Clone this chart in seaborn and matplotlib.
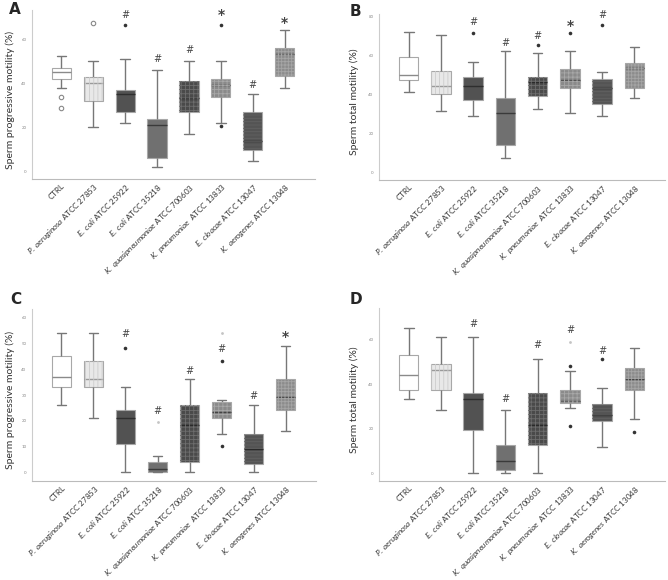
import matplotlib
matplotlib.use("Agg")
import matplotlib.pyplot as plt
from matplotlib.patches import PathPatch
import seaborn as sns
import pandas as pd

# groups, in plotting order
groups = ["CTRL", "P. aeruginosa ATCC 27853", "E. coli ATCC 25922", "E. coli ATCC 35218",
          "K. quasipneumoniae ATCC 700603", "K. pneumoniae ATCC 13833",
          "E. cloacae ATCC 13047", "K. aerogenes ATCC 13048"]
tick_labels = ["CTRL",
               r"$\it{P.\ aeruginosa}$ ATCC 27853",
               r"$\it{E.\ coli}$ ATCC 25922",
               r"$\it{E.\ coli}$ ATCC 35218",
               r"$\it{K.\ quasipneumoniae}$ ATCC 700603",
               r"$\it{K.\ pneumoniae}$  ATCC 13833",
               r"$\it{E.\ cloacae}$ ATCC 13047",
               r"$\it{K.\ aerogenes}$ ATCC 13048"]

# A - progressive motility, 1st time point
A_low = [38.2, 20.2, 22.2, 2.1, 17.2, 22.2, 5.1, 38.2]
A_q1 = [42.2, 32.3, 27.0, 6.2, 27.0, 34.1, 10.1, 43.3]
A_med = [45.4, 40.4, 35.1, 21.1, 33.5, 39.2, 14.2, 53.2]
A_q3 = [47.2, 43.1, 37.1, 24.1, 41.2, 42.1, 27.1, 56.1]
A_high = [52.3, 50.2, 51.3, 46.2, 50.2, 50.2, 35.1, 64.4]
A_out = [("E. coli ATCC 25922", 66.4), ("K. pneumoniae ATCC 13833", 66.4),
         ("K. pneumoniae ATCC 13833", 21.0)]
A_open = [("CTRL", 34.0), ("CTRL", 29.0), ("P. aeruginosa ATCC 27853", 67.3)]
A_faint = []
A_sig = ["", "", "#", "#", "#", "*", "#", "*"]
A_sig_y = [0, 0, 70.9, 51.0, 55.0, 70.9, 39.2, 67.4]

# B - total motility, 1st time point
B_low = [41.3, 31.3, 29.0, 7.3, 32.3, 30.2, 29.0, 38.2]
B_q1 = [47.3, 40.1, 37.3, 14.2, 39.2, 43.2, 35.1, 43.2]
B_med = [50.3, 44.2, 44.2, 30.2, 46.5, 47.3, 43.5, 53.7]
B_q3 = [59.2, 52.3, 49.2, 38.2, 49.2, 53.2, 48.2, 56.3]
B_high = [72.4, 70.5, 56.5, 62.2, 61.3, 62.3, 51.5, 64.4]
B_out = [("E. coli ATCC 25922", 71.5), ("K. quasipneumoniae ATCC 700603", 65.6),
         ("K. pneumoniae ATCC 13833", 71.5), ("E. cloacae ATCC 13047", 75.6)]
B_open = []
B_faint = []
B_sig = ["", "", "#", "#", "#", "*", "#", ""]
B_sig_y = [0, 0, 77.2, 66.5, 70.0, 75.5, 81.2, 0]

# C - progressive motility, 2nd time point
C_low = [26.0, 21.2, 0.0, 0.0, 0.0, 15.0, 0.0, 16.1]
C_q1 = [33.2, 33.2, 11.0, 0.0, 4.0, 21.2, 3.0, 24.1]
C_med = [37.2, 36.1, 21.1, 1.0, 18.3, 23.3, 9.1, 29.1]
C_q3 = [45.1, 43.1, 24.1, 4.0, 26.0, 27.1, 15.0, 36.1]
C_high = [54.3, 54.3, 33.2, 6.2, 36.3, 28.2, 26.2, 49.2]
C_out = [("E. coli ATCC 25922", 48.2), ("K. pneumoniae ATCC 13833", 43.3),
         ("K. pneumoniae ATCC 13833", 10.1)]
C_open = []
C_faint = [("E. coli ATCC 35218", 19.3), ("K. pneumoniae ATCC 13833", 54.3)]
C_sig = ["", "", "#", "#", "#", "#", "#", "*"]
C_sig_y = [0, 0, 53.6, 23.6, 39.2, 47.8, 29.8, 52.6]

# D - total motility, 2nd time point
D_low = [33.4, 28.4, 0.0, 0.0, 0.0, 29.3, 11.5, 24.4]
D_q1 = [37.3, 37.4, 19.5, 1.3, 12.6, 31.3, 23.4, 37.4]
D_med = [44.2, 46.3, 33.4, 5.4, 21.6, 32.3, 26.3, 42.2]
D_q3 = [53.1, 49.3, 36.2, 12.4, 36.2, 37.3, 31.1, 47.2]
D_high = [65.3, 61.2, 61.2, 28.4, 51.2, 46.1, 38.3, 56.3]
D_out = [("K. pneumoniae ATCC 13833", 48.2), ("K. pneumoniae ATCC 13833", 21.3),
         ("E. cloacae ATCC 13047", 51.2), ("K. aerogenes ATCC 13048", 18.4)]
D_open = []
D_faint = [("K. pneumoniae ATCC 13833", 59.1)]
D_sig = ["", "", "#", "#", "#", "#", "#", ""]
D_sig_y = [0, 0, 66.9, 33.4, 57.6, 64.4, 55.1, 0]

face = ["#ffffff", "#e8e8e8", "#525252", "#707070", "#4a4a4a", "#8a8a8a", "#545454", "#8c8c8c"]
hatch = [None, "||||", None, None, "++++", "++++", "-----", "+++++"]
hatch_col = [None, "#cccccc", None, None, "#6e6e6e", "#a8a8a8", "#626262", "#a6a6a6"]
median_col = ["#8a8a8a", "#9a9a9a", "#2e2e2e", "#3a3a3a", "#2a2a2a", "#444444", "#2a2a2a", "#444444"]

sns.set_style("white")
plt.rcParams["font.family"] = ["Lato", "DejaVu Sans"]
plt.rcParams["mathtext.fontset"] = "custom"
plt.rcParams["mathtext.rm"] = "Lato"
plt.rcParams["mathtext.it"] = "Lato:italic"
plt.rcParams["hatch.linewidth"] = 0.6

fig = plt.figure(figsize=(6.68, 5.8), dpi=100)
W, H = 668, 580


def px_axes(l, t, r, b):
    return fig.add_axes([l / W, 1 - b / H, (r - l) / W, (b - t) / H])


panels = [
    dict(letter="A", rect=(32, 10, 315, 179), ylim=(-3.2, 73.3), ticks=[0, 20, 40, 60],
         ylabel="Sperm progressive motility (%)",
         stats=(A_low, A_q1, A_med, A_q3, A_high), out=A_out, opn=A_open, faint=A_faint,
         sig=A_sig, sig_y=A_sig_y, lx=9, ly=9, labx=15),
    dict(letter="B", rect=(379, 14, 665, 180), ylim=(-4.1, 81.5), ticks=[0, 20, 40, 60, 80],
         ylabel="Sperm total motility (%)",
         stats=(B_low, B_q1, B_med, B_q3, B_high), out=B_out, opn=B_open, faint=B_faint,
         sig=B_sig, sig_y=B_sig_y, lx=350, ly=12, labx=359),
    dict(letter="C", rect=(32, 309, 316, 481), ylim=(-3.5, 63.5), ticks=[0, 10, 20, 30, 40, 50, 60],
         ylabel="Sperm progressive motility (%)",
         stats=(C_low, C_q1, C_med, C_q3, C_high), out=C_out, opn=C_open, faint=C_faint,
         sig=C_sig, sig_y=C_sig_y, lx=10, ly=300, labx=15),
    dict(letter="D", rect=(379, 308, 665, 481), ylim=(-3.6, 74.3), ticks=[0, 20, 40, 60],
         ylabel="Sperm total motility (%)",
         stats=(D_low, D_q1, D_med, D_q3, D_high), out=D_out, opn=D_open, faint=D_faint,
         sig=D_sig, sig_y=D_sig_y, lx=350, ly=300, labx=359),
]

for p in panels:
    ax = px_axes(*p["rect"])
    rows = []
    for s in p["stats"]:
        for g, v in zip(groups, s):
            rows.append({"group": g, "value": v})
    df = pd.DataFrame(rows)

    sns.boxplot(data=df, x="group", y="value", hue="group", order=groups, hue_order=groups,
                palette=dict(zip(groups, face)), saturation=1, width=0.6, whis=(0, 100),
                linecolor="#777777", linewidth=1.0, legend=False, ax=ax)

    for i, cont in enumerate(ax.containers):
        box = cont.boxes[0]
        box.set_edgecolor("#a8a8a8")
        box.set_linewidth(0.8)
        cont.medians[0].set_color(median_col[i])
        cont.medians[0].set_linewidth(1.0)
        if hatch[i]:
            hp = PathPatch(box.get_path(), facecolor="none", edgecolor=hatch_col[i],
                           linewidth=0, hatch=hatch[i], zorder=box.get_zorder() + 0.1)
            ax.add_patch(hp)

    if p["out"]:
        od = pd.DataFrame(p["out"], columns=["group", "value"])
        sns.stripplot(data=od, x="group", y="value", order=groups, jitter=False,
                      color="#333333", size=2.6, ax=ax, zorder=5)
    if p["opn"]:
        od = pd.DataFrame(p["opn"], columns=["group", "value"])
        sns.stripplot(data=od, x="group", y="value", order=groups, jitter=False,
                      color="white", edgecolor="#888888", linewidth=0.8, size=3.2, ax=ax, zorder=5)
    if p["faint"]:
        od = pd.DataFrame(p["faint"], columns=["group", "value"])
        sns.stripplot(data=od, x="group", y="value", order=groups, jitter=False,
                      color="#c4c4c4", size=2.0, ax=ax, zorder=5)

    for i, (m, y) in enumerate(zip(p["sig"], p["sig_y"])):
        if m == "#":
            ax.text(i, y, m, ha="center", va="center", fontsize=7, color="#444444",
                    family="DejaVu Sans")
        elif m == "*":
            ax.text(i, y, m, ha="center", va="center", fontsize=10, color="#444444",
                    fontweight="bold", family="DejaVu Sans")

    ax.set_xlim(-0.92, 7.95)
    ax.set_ylim(*p["ylim"])
    ax.set_yticks(p["ticks"])
    ax.set_yticklabels([str(t) for t in p["ticks"]])
    ax.tick_params(axis="y", labelsize=3.2, labelcolor="#888888", length=0, pad=4)
    ax.set_xticks(range(len(groups)))
    ax.set_xticklabels(tick_labels, rotation=45, ha="right", rotation_mode="anchor",
                       fontsize=5.8, color="#333333")
    ax.tick_params(axis="x", length=0, pad=2)
    ax.set_xlabel("")
    ax.set_ylabel(p["ylabel"], fontsize=7.5, color="#333333")
    ax.yaxis.set_label_coords((p["labx"] - p["rect"][0]) / (p["rect"][2] - p["rect"][0]), 0.47)
    for side in ["top", "right"]:
        ax.spines[side].set_visible(False)
    ax.spines["left"].set_color("#cccccc")
    ax.spines["bottom"].set_color("#bbbbbb")
    ax.spines["left"].set_linewidth(0.8)
    ax.spines["bottom"].set_linewidth(0.8)

    fig.text(p["lx"] / W, 1 - p["ly"] / H, p["letter"], fontsize=11, fontweight="bold",
             va="center", ha="left", family="DejaVu Sans")

fig.savefig("out.png", dpi=100)
